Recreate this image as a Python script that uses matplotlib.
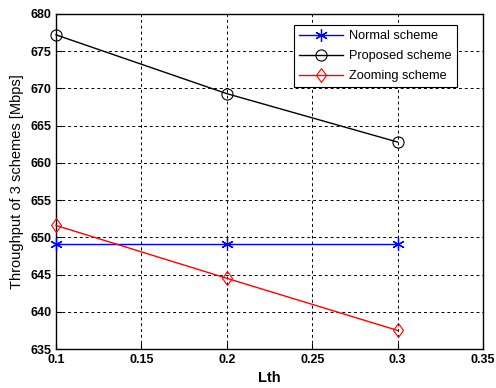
import numpy as np
import matplotlib as mpl
mpl.use('Agg')
from matplotlib import pyplot as plt
from matplotlib.path import Path

mpl.rcParams['font.family'] = 'Liberation Sans'

lth = [0.1, 0.2, 0.3]
normal = [649.1, 649.1, 649.1]
proposed = [677.2, 669.3, 662.8]
zooming = [651.6, 644.5, 637.5]

# slightly tall diamond, like the classic MATLAB marker
diamond = Path([(0, 1), (0.72, 0), (0, -1), (-0.72, 0), (0, 1)],
               [Path.MOVETO, Path.LINETO, Path.LINETO, Path.LINETO, Path.CLOSEPOLY])

fig = plt.figure(figsize=(4.96, 3.88), dpi=100)
ax = fig.add_axes([56 / 496, 39 / 388, 427 / 496, 335 / 388])

ax.plot(lth, normal, '-', color='blue', marker=(6, 2, 0), ms=9, mew=0.9, lw=1,
        label='Normal scheme', clip_on=False, zorder=3)
ax.plot(lth, proposed, '-', color='black', marker='o', ms=8, mfc='none',
        mew=0.8, lw=1, label='Proposed scheme', clip_on=False, zorder=3)
ax.plot(lth, zooming, '-', color='red', marker=diamond, ms=10, mfc='none',
        mew=0.8, lw=1, label='Zooming scheme', clip_on=False, zorder=3)

ax.set_xlim(0.1, 0.35)
ax.set_ylim(635, 680)
ax.set_xticks([0.1, 0.15, 0.2, 0.25, 0.3, 0.35])
ax.set_xticklabels(['0.1', '0.15', '0.2', '0.25', '0.3', '0.35'])
ax.set_yticks(np.arange(635, 681, 5))
ax.tick_params(direction='in', length=4, labelsize=9, width=0.8)
for lab in ax.get_xticklabels() + ax.get_yticklabels():
    lab.set_fontweight('bold')
ax.grid(True, color='black', linestyle=(0, (3, 3)), lw=0.7)
for s in ax.spines.values():
    s.set_linewidth(1)

ax.set_xlabel('Lth', fontsize=10.5, fontweight='bold')
ax.set_ylabel('Throughput of 3 schemes [Mbps]', fontsize=10.5)

leg = ax.legend(loc='upper right', bbox_to_anchor=(0.939, 0.967), fontsize=9.2,
                fancybox=False, framealpha=1, edgecolor='black',
                handlelength=3.4, borderpad=0.4, labelspacing=0.62,
                handletextpad=0.5, borderaxespad=0)
leg.get_frame().set_linewidth(0.8)

fig.savefig('out.png', dpi=100)
